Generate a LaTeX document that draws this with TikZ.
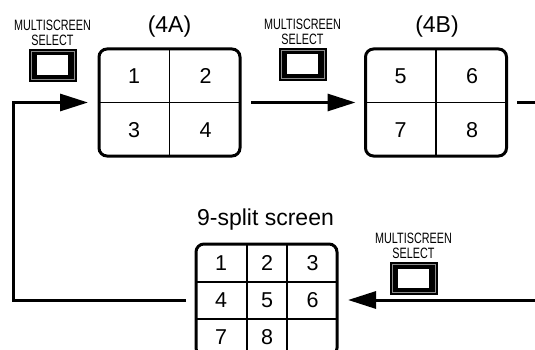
\documentclass[tikz,border=0pt]{standalone}
\usepackage{fontspec}
\setmainfont{Liberation Sans}
\newfontfamily\condfont[FakeStretch=0.72]{Liberation Sans}
\usetikzlibrary{arrows.meta}
\begin{document}
\begin{tikzpicture}[x=1pt,y=-1pt,
  screen/.style={draw, line width=3pt, rounded corners=8pt, inner sep=0pt, outer sep=0pt},
  divider/.style={line width=1.2pt},
  divider9/.style={line width=1.6pt},
  conn/.style={line width=3pt},
  arr/.style={conn, -{Triangle[length=28pt,width=17pt]}},
  num/.style={font=\fontsize{21.5}{21.5}\selectfont},
  title/.style={font=\fontsize{23}{23}\selectfont, inner sep=0pt},
  btnlabel/.style={font=\condfont\fontsize{15}{15}\selectfont, align=center, inner sep=0pt},
  btn/.style={fill=black, draw=none, inner sep=0pt, outer sep=0pt,
    minimum width=48pt, minimum height=33pt,
    path picture={
      \draw[black!45, line width=0.7pt]
        ([shift={(2.4pt,-2.4pt)}]path picture bounding box.north west) rectangle
        ([shift={(-2.4pt,2.4pt)}]path picture bounding box.south east);
      \fill[white]
        ([shift={(8.5pt,-6.5pt)}]path picture bounding box.north west) rectangle
        ([shift={(-8.5pt,7pt)}]path picture bounding box.south east);
    }},
]
\useasboundingbox (0,0) rectangle (535,350);
\clip (0,0) rectangle (535,350);

% screen (4A)
\node[screen, minimum width=141pt, minimum height=107pt] (A) at (169.5,102.5) {};
\draw[divider] (A.north) -- (A.south);
\draw[divider] (A.west) -- (A.east);
\node[num] (a1) at (134,76) {1};
\node[num] (a2) at (205.5,76) {2};
\node[num] (a3) at (134,130.5) {3};
\node[num] (a4) at (205.5,130.5) {4};
\node[title, anchor=base] (tA) at (169.5,33) {(4A)};

% screen (4B)
\node[screen, minimum width=141pt, minimum height=107pt] (B) at (436,102.5) {};
\draw[divider] (B.north) -- (B.south);
\draw[divider] (B.west) -- (B.east);
\node[num] (b5) at (400.5,76) {5};
\node[num] (b6) at (472,76) {6};
\node[num] (b7) at (400.5,130.5) {7};
\node[num] (b8) at (472,130.5) {8};
\node[title, anchor=base] (tB) at (437,33) {(4B)};

% 9-split screen
\node[screen, minimum width=141pt, minimum height=112pt] (N) at (266.5,300) {};
\draw[divider9] (247,244) -- (247,356);
\draw[divider9] (287,244) -- (287,356);
\draw[divider9] (196,282) -- (337,282);
\draw[divider9] (196,319) -- (337,319);
\node[num] (n1) at (221,263) {1};
\node[num] (n2) at (267,263) {2};
\node[num] (n3) at (312.5,263) {3};
\node[num] (n4) at (221,300.5) {4};
\node[num] (n5) at (267,300.5) {5};
\node[num] (n6) at (312.5,300.5) {6};
\node[num] (n7) at (221,337.5) {7};
\node[num] (n8) at (267,337.5) {8};
\node[title, anchor=base] (tN) at (265.5,225) {9-split screen};

% MULTISCREEN SELECT buttons
\node[btn] (k1) at (52.5,65.5) {};
\node[btnlabel, anchor=south] (l1) at (52.5,46) {MULTISCREEN\\SELECT};
\node[btn] (k2) at (302.5,64.5) {};
\node[btnlabel, anchor=south] (l2) at (302.5,45) {MULTISCREEN\\SELECT};
\node[btn] (k3) at (413.5,278.5) {};
\node[btnlabel, anchor=south] (l3) at (413.5,259) {MULTISCREEN\\SELECT};

% connectors
\coordinate (r1) at (537,102.5);
\coordinate (r2) at (537,300);
\coordinate (c1) at (13.5,300);
\coordinate (c2) at (13.5,102.5);
\draw[arr, shorten <=11pt, shorten >=10pt] (A.east) -- (B.west);
\draw[conn, shorten <=10.5pt] (B.east) -- (r1);
\draw[arr, shorten >=11pt] (r2) -- (N.east);
\draw[arr, shorten <=10pt, shorten >=11pt] (N.west) -- (c1) -- (c2) -- (A.west);
\end{tikzpicture}
\end{document}
